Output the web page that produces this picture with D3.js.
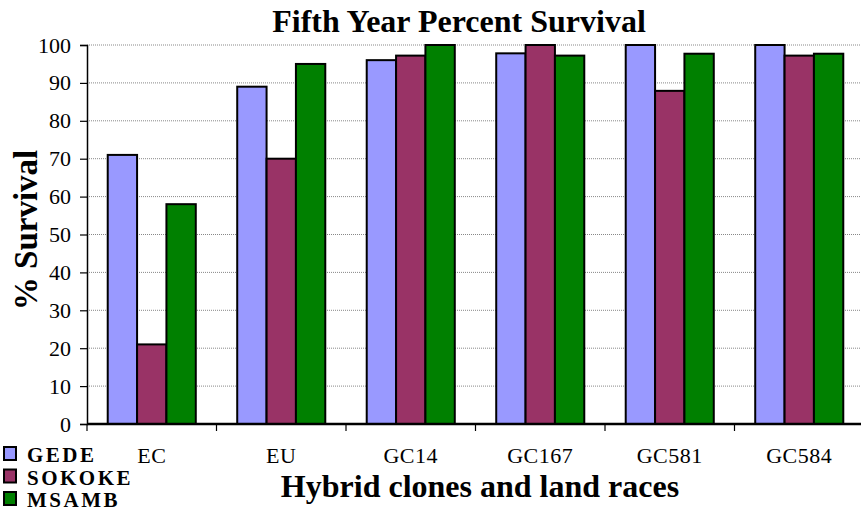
<!DOCTYPE html>
<html>
<head>
<meta charset="utf-8">
<script src="https://cdn.jsdelivr.net/npm/d3@7"></script>
<style>
  body { margin: 0; background: #fff; }
  text { font-family: "Liberation Serif", "Times New Roman", serif; }
</style>
</head>
<body>
<svg width="861" height="512"></svg>
<script>
// data
const categories = ["EC", "EU", "GC14", "GC167", "GC581", "GC584"];
const seriesNames = ["GEDE", "SOKOKE", "MSAMB"];
const gede   = [71, 89, 96, 97.8, 100, 100];
const sokoke = [21, 70, 97.2, 100, 87.9, 97.2];
const msamb  = [58, 95, 100, 97.2, 97.7, 97.7];
const yTicks = [0, 10, 20, 30, 40, 50, 60, 70, 80, 90, 100];

const colors = ["#9999ff", "#993366", "#008000"];
const values = [gede, sokoke, msamb];

const svg = d3.select("svg");

const plotLeft = 87, plotRight = 864, plotTop = 45, plotBottom = 424;

const y = d3.scaleLinear().domain([0, 100]).range([plotBottom, plotTop]);
const x0 = d3.scaleBand().domain(categories).range([plotLeft, plotRight]).padding(0);
const bw = x0.bandwidth();
const x1 = d3.scaleBand().domain(seriesNames).range([bw * 0.16, bw * 0.84]).padding(0);

// gridlines
svg.append("g")
  .selectAll("line")
  .data(yTicks.filter(d => d > 0))
  .enter()
  .append("line")
  .attr("x1", plotLeft).attr("x2", 861)
  .attr("y1", d => y(d)).attr("y2", d => y(d))
  .attr("stroke", "#888")
  .attr("stroke-width", 1)
  .attr("stroke-dasharray", "1,1");

// bars
const groups = svg.append("g")
  .selectAll("g")
  .data(categories)
  .enter()
  .append("g")
  .attr("transform", d => `translate(${x0(d)},0)`);

groups.selectAll("rect")
  .data((c, i) => seriesNames.map((s, j) => ({ s: s, v: values[j][i], j: j })))
  .enter()
  .append("rect")
  .attr("x", d => x1(d.s))
  .attr("y", d => y(d.v))
  .attr("width", x1.bandwidth())
  .attr("height", d => y(0) - y(d.v))
  .attr("fill", d => colors[d.j])
  .attr("stroke", "#000")
  .attr("stroke-width", 2);

// y axis
const yAxis = svg.append("g")
  .attr("transform", `translate(${plotLeft},0)`)
  .call(d3.axisLeft(y).tickValues(yTicks).tickSize(7).tickPadding(9));
yAxis.attr("font-family", null);
yAxis.select(".domain").attr("stroke", "#000").attr("stroke-width", 1.5);
yAxis.selectAll(".tick line").attr("stroke", "#000").attr("stroke-width", 1.2);
yAxis.selectAll(".tick text")
  .attr("font-size", 22)
  .attr("fill", "#000")
  .style("font-family", "'Liberation Serif', serif");

// x axis line
svg.append("line")
  .attr("x1", plotLeft).attr("x2", 861)
  .attr("y1", plotBottom).attr("y2", plotBottom)
  .attr("stroke", "#000").attr("stroke-width", 2.5);

// x ticks at band boundaries
svg.append("g")
  .selectAll("line")
  .data(categories)
  .enter()
  .append("line")
  .attr("x1", d => x0(d)).attr("x2", d => x0(d))
  .attr("y1", plotBottom).attr("y2", plotBottom + 7)
  .attr("stroke", "#000").attr("stroke-width", 1.2);

// x labels
svg.append("g")
  .selectAll("text")
  .data(categories)
  .enter()
  .append("text")
  .attr("x", d => x0(d) + bw / 2)
  .attr("y", 463)
  .attr("text-anchor", "middle")
  .attr("font-size", 22)
  .attr("letter-spacing", 0.5)
  .text(d => d);

// titles
svg.append("text")
  .attr("x", 459).attr("y", 32)
  .attr("text-anchor", "middle")
  .attr("font-size", 32).attr("font-weight", "bold")
  .text("Fifth Year Percent Survival");

svg.append("text")
  .attr("x", 480).attr("y", 497)
  .attr("text-anchor", "middle")
  .attr("font-size", 32).attr("font-weight", "bold")
  .text("Hybrid clones and land races");

svg.append("text")
  .attr("transform", "translate(37,230) rotate(-90)")
  .attr("text-anchor", "middle")
  .attr("font-size", 33).attr("font-weight", "bold")
  .text("% Survival");

// legend
const legend = svg.append("g")
  .selectAll("g")
  .data(seriesNames)
  .enter()
  .append("g")
  .attr("transform", (d, i) => `translate(0,${i * 22.5})`);

legend.append("rect")
  .attr("x", 4).attr("y", 447)
  .attr("width", 12).attr("height", 13)
  .attr("fill", (d, i) => colors[i])
  .attr("stroke", "#000").attr("stroke-width", 2);

legend.append("text")
  .attr("x", 27).attr("y", 462)
  .attr("font-size", 21).attr("font-weight", "bold")
  .attr("letter-spacing", 2.5)
  .text(d => d);
</script>
</body>
</html>
